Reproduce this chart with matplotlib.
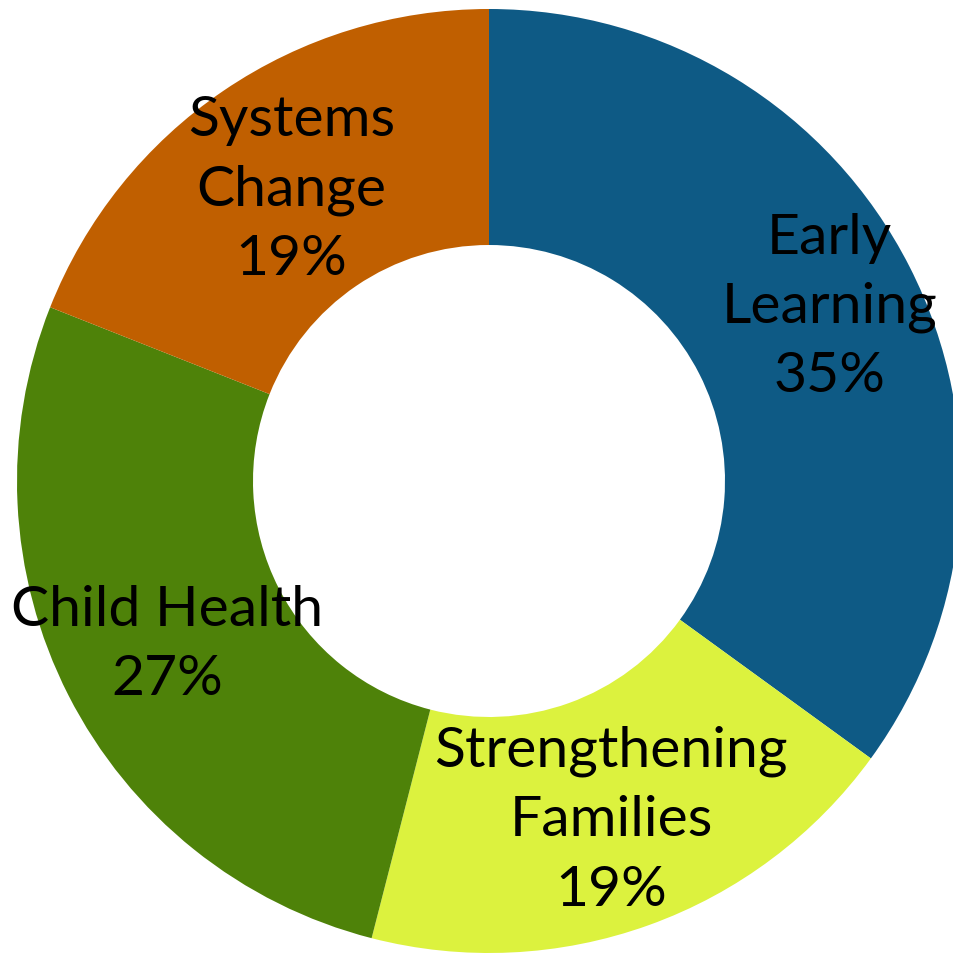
import matplotlib
matplotlib.use("Agg")
import matplotlib.pyplot as plt
import numpy as np

labels = ["Early\nLearning\n35%", "Strengthening\nFamilies\n19%", "Child Health\n27%", "Systems\nChange\n19%"]
values = [35, 19, 27, 19]
colors = ["#0E5A85", "#DCF23E", "#4E8209", "#C05F00"]
label_dist = [0.81, 0.765, 0.765, 0.745]

W, H = 954, 957
fig = plt.figure(figsize=(W / 100, H / 100), dpi=100)
ax = fig.add_axes([0, 0, 1, 1])

cx, cy, R = 489, 957 - 481, 472
wedges, _ = ax.pie(values, colors=colors, startangle=90, counterclock=False,
                   center=(cx, cy), radius=R, frame=True,
                   wedgeprops=dict(width=R * 0.5, linewidth=0))
ax.set_xlim(0, W)
ax.set_ylim(0, H)
ax.set_aspect("equal")
ax.axis("off")

for w, lab, d in zip(wedges, labels, label_dist):
    ang = np.deg2rad((w.theta1 + w.theta2) / 2)
    x = cx + d * R * np.cos(ang)
    y = cy + d * R * np.sin(ang)
    ax.text(x, y, lab, ha="center", va="center", fontsize=41,
            family=["Lato", "DejaVu Sans"], color="black", linespacing=1.44)

fig.savefig("out.png", dpi=100)
